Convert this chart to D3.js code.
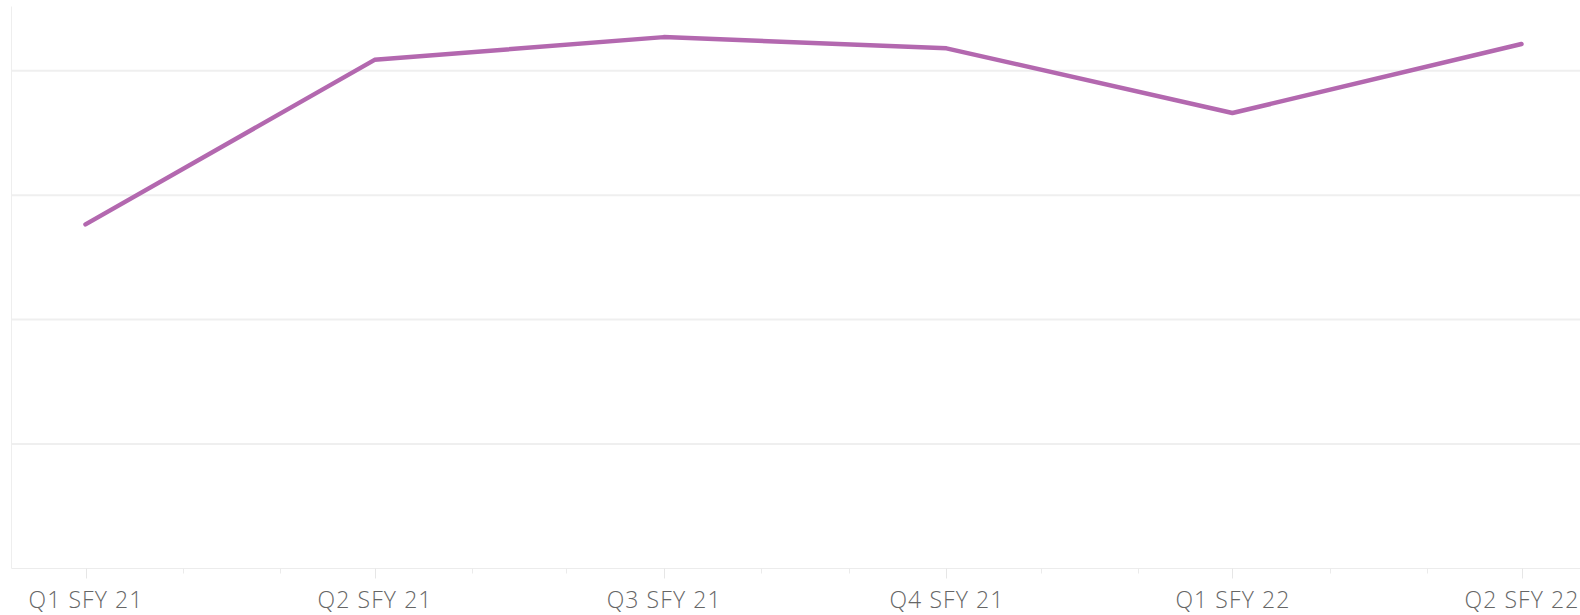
<!DOCTYPE html>
<html>
<head>
<meta charset="utf-8">
<script src="https://cdn.jsdelivr.net/npm/d3@7"></script>
<style>
  body { margin: 0; background: #fff; }
  svg { display: block; }
</style>
</head>
<body>
<svg id="chart"></svg>
<script>
// quarter start dates (SFY Q1 = July)
var quarters = ['2020-07-01', '2020-10-01', '2021-01-01', '2021-04-01', '2021-07-01', '2021-10-01'];
var quarterLabels = ['Q1 SFY 21', 'Q2 SFY 21', 'Q3 SFY 21', 'Q4 SFY 21', 'Q1 SFY 22', 'Q2 SFY 22'];
var values = [55.3, 81.75, 85.4, 83.6, 73.2, 84.3];
var yTicks = [0, 20, 40, 60, 80];

var width = 1580, height = 615;
var parse = d3.utcParse('%Y-%m-%d');
var data = quarters.map(function(q, i) { return { date: parse(q), value: values[i], label: quarterLabels[i] }; });

var svg = d3.select('#chart').attr('width', width).attr('height', height);

var x = d3.scaleUtc()
    .domain([data[0].date, data[data.length - 1].date])
    .range([85.5, 1521.5]);
var y = d3.scaleLinear()
    .domain([0, 90])
    .range([568.5, 8.5]);

var left = 11.5;

// gridlines
svg.append('g')
    .selectAll('line')
    .data(yTicks)
    .enter().append('line')
    .attr('x1', left)
    .attr('x2', width)
    .attr('y1', d => y(d))
    .attr('y2', d => y(d))
    .attr('stroke', d => d === 0 ? '#ececec' : '#efefef')
    .attr('stroke-width', d => d === 0 ? 1 : 2);

// left border
svg.append('line')
    .attr('x1', left).attr('x2', left)
    .attr('y1', 6.5).attr('y2', y(0))
    .attr('stroke', '#eeeeee');

// month ticks
var months = d3.utcMonth.range(d3.utcMonth.offset(data[0].date, 1), d3.utcMonth.offset(data[data.length - 1].date, 2))
    .filter(d => d.getUTCMonth() % 3 !== 0);
svg.append('g')
    .selectAll('line')
    .data(months)
    .enter().append('line')
    .attr('x1', d => Math.round(x(d)) + 0.5)
    .attr('x2', d => Math.round(x(d)) + 0.5)
    .attr('y1', y(0))
    .attr('y2', y(0) + 5)
    .attr('stroke', '#ebebeb');

// quarter ticks + labels
var xAxis = svg.append('g');
xAxis.selectAll('line')
    .data(data)
    .enter().append('line')
    .attr('x1', d => Math.round(x(d.date)) + 0.5)
    .attr('x2', d => Math.round(x(d.date)) + 0.5)
    .attr('y1', y(0))
    .attr('y2', y(0) + 10)
    .attr('stroke', '#e6e6e6');
xAxis.selectAll('text')
    .data(data)
    .enter().append('text')
    .attr('x', d => x(d.date) + 0.5)
    .attr('y', 607.5)
    .attr('text-anchor', 'middle')
    .style('font-family', '"Open Sans", sans-serif')
    .style('font-weight', 300)
    .style('font-size', '23px')
    .style('letter-spacing', '1.1px')
    .style('fill', '#666')
    .text(d => d.label);

// line
var line = d3.line()
    .x(d => x(d.date))
    .y(d => y(d.value));
svg.append('path')
    .datum(data)
    .attr('d', line)
    .attr('fill', 'none')
    .attr('stroke', '#b368af')
    .attr('stroke-width', 4.5)
    .attr('stroke-linejoin', 'round')
    .attr('stroke-linecap', 'round');
</script>
</body>
</html>
